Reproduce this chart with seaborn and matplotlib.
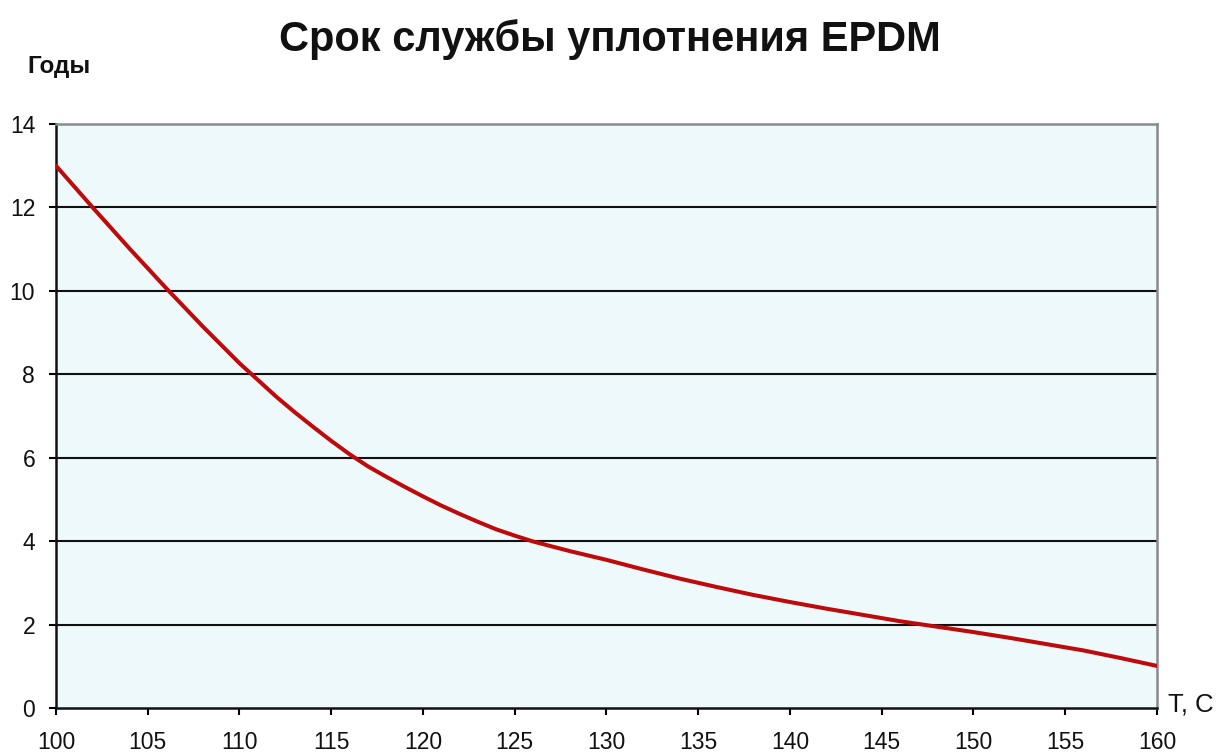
import matplotlib
matplotlib.use("Agg")
import matplotlib.pyplot as plt
import seaborn as sns
import pandas as pd

# Service life of EPDM seal vs. temperature
temperature = [100, 102, 104, 106, 108, 110, 112, 113, 114, 115, 116, 117,
               118, 119, 120, 121, 122, 123, 124, 125, 126, 128, 130, 132,
               134, 136, 138, 140, 142, 144, 146, 148, 150, 152, 154, 156,
               158, 160]
years = [13.0, 12.0, 11.02, 10.07, 9.15, 8.27, 7.47, 7.1, 6.75, 6.41, 6.09,
         5.8, 5.55, 5.31, 5.08, 4.86, 4.66, 4.47, 4.29, 4.14, 4.0, 3.77,
         3.56, 3.33, 3.11, 2.91, 2.72, 2.55, 2.39, 2.24, 2.09, 1.96, 1.83,
         1.69, 1.54, 1.39, 1.21, 1.02]

x_ticks = [100, 105, 110, 115, 120, 125, 130, 135, 140, 145, 150, 155, 160]
y_ticks = [0, 2, 4, 6, 8, 10, 12, 14]

title_text = "Срок службы уплотнения EPDM"
y_label = "Годы"
x_label = "T, C"

sns.set_theme(style="white")
plt.rcParams["font.family"] = ["Liberation Sans", "DejaVu Sans"]

df = pd.DataFrame({"T": temperature, "years": years})

fig = plt.figure(figsize=(12.22, 7.55), dpi=100)
ax = fig.add_axes([0.0458, 0.0616, 0.9010, 0.7742])
ax.set_facecolor("#EEF9FC")

for yv in y_ticks[1:-1]:
    ax.axhline(yv, color="#111111", lw=1.5, zorder=1)

sns.lineplot(data=df, x="T", y="years", ax=ax, color="#BE0A0A", lw=2.9,
             zorder=3)

ax.set_xlim(100, 160)
ax.set_ylim(0, 14)
ax.set_xticks(x_ticks)
ax.set_yticks(y_ticks)
ax.set_xlabel("")
ax.set_ylabel("")

ax.tick_params(axis="x", direction="out", length=5, width=1.5, color="black",
               pad=11.5, labelsize=16.5, labelcolor="#111111", bottom=True)
ax.tick_params(axis="y", direction="out", length=5, width=1.5, color="black",
               pad=10, labelsize=16.5, labelcolor="#111111", left=True)

for side in ("left", "bottom"):
    ax.spines[side].set_color("#111111")
    ax.spines[side].set_linewidth(1.8)
for side in ("top", "right"):
    ax.spines[side].set_color("#8A8A8A")
    ax.spines[side].set_linewidth(1.8)
    ax.spines[side].set_visible(True)

fig.text(0.499, 0.932, title_text, ha="center", va="baseline",
         fontsize=30, fontweight="bold", color="#111111")
fig.text(0.022, 0.903, y_label, ha="left", va="baseline",
         fontsize=17.5, fontweight="bold", color="#111111")
fig.text(0.956, 0.057, x_label, ha="left", va="baseline",
         fontsize=18.5, color="#111111")

fig.savefig("out.png", dpi=100, facecolor="white")
